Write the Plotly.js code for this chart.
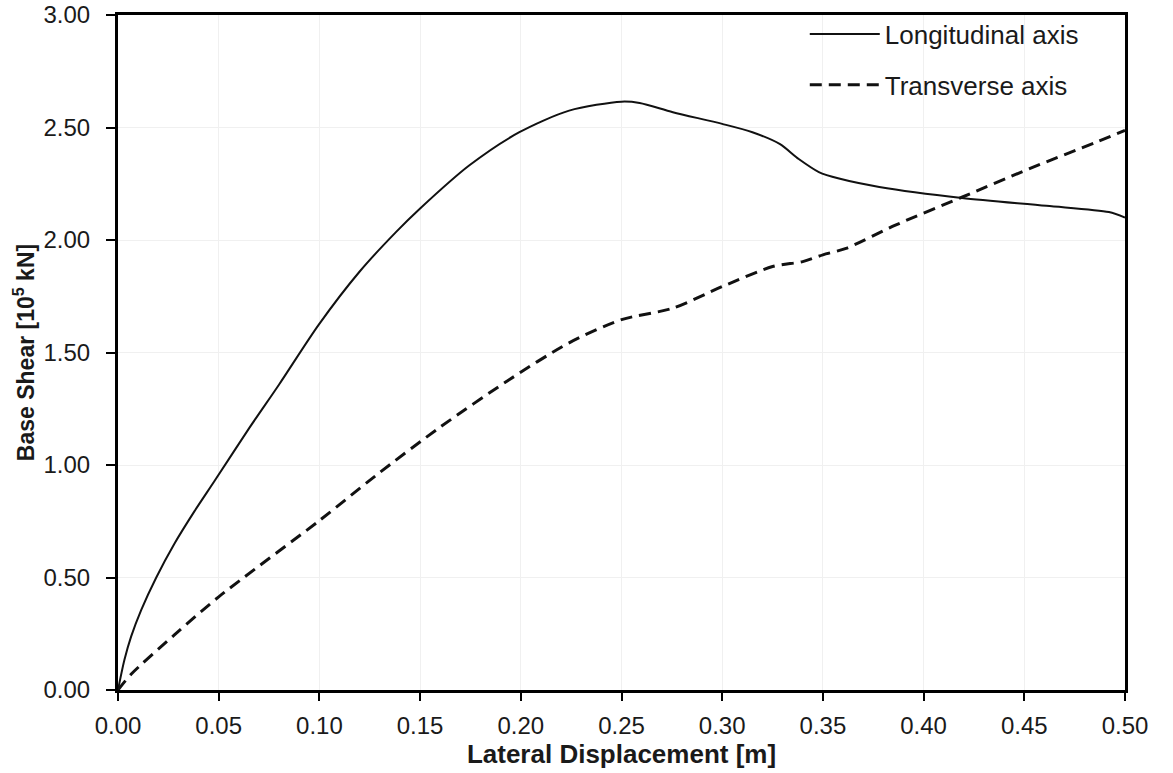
<!DOCTYPE html>
<html>
<head>
<meta charset="utf-8">
<script src="https://cdn.plot.ly/plotly-3.0.1.min.js"></script>
<style>
  html, body { margin: 0; padding: 0; background: #fff; }
  #chart { width: 1173px; height: 773px; }
</style>
</head>
<body>
<div id="chart"></div>
<script>
// Pushover curves
var long_x = [0, 0.0032, 0.0065, 0.0115, 0.019, 0.028, 0.038, 0.048, 0.0653, 0.080, 0.0997, 0.120, 0.138, 0.150, 0.1745, 0.1993, 0.224, 0.250, 0.259, 0.2755, 0.300, 0.315, 0.3285, 0.338, 0.348, 0.358, 0.378, 0.419, 0.461, 0.492, 0.500]
var long_y = [0, 0.134, 0.237, 0.355, 0.50, 0.65, 0.795, 0.93, 1.166, 1.358, 1.624, 1.86, 2.035, 2.14, 2.332, 2.479, 2.575, 2.615, 2.609, 2.568, 2.516, 2.479, 2.427, 2.36, 2.302, 2.273, 2.236, 2.187, 2.152, 2.124, 2.10]

var trans_x = [0, 0.0065, 0.028, 0.050, 0.100, 0.128, 0.1596, 0.1944, 0.224, 0.250, 0.2755, 0.300, 0.325, 0.340, 0.350, 0.3615, 0.386, 0.419, 0.4526, 0.4857, 0.500]
var trans_y = [0, 0.07, 0.245, 0.414, 0.753, 0.953, 1.166, 1.38, 1.543, 1.646, 1.697, 1.793, 1.882, 1.904, 1.934, 1.963, 2.066, 2.19, 2.317, 2.435, 2.487]

var series_names = ['Longitudinal axis', 'Transverse axis']

var x_ticks = [0, 0.05, 0.10, 0.15, 0.20, 0.25, 0.30, 0.35, 0.40, 0.45, 0.50]
var y_ticks = [0, 0.5, 1.0, 1.5, 2.0, 2.5, 3.0]

var x_range = [0, 0.5]
var y_range = [0, 3]

var font_family = '"Liberation Sans", Arial, sans-serif'

var traces = [
  {
    x: long_x,
    y: long_y,
    name: series_names[0],
    legendgroup: 'a',
    mode: 'lines',
    line: {color: '#111', width: 2, shape: 'spline', smoothing: 0.8},
    type: 'scatter'
  },
  {
    x: trans_x,
    y: trans_y,
    name: series_names[1],
    legendgroup: 'b',
    mode: 'lines',
    line: {color: '#111', width: 3, dash: '12px,7px', shape: 'spline', smoothing: 0.8},
    type: 'scatter'
  }
]

var layout = {
  width: 1173,
  height: 773,
  margin: {l: 118, r: 48, t: 14, b: 83},
  paper_bgcolor: '#fff',
  plot_bgcolor: '#fff',
  font: {family: font_family, color: '#1a1a1a', size: 24},
  showlegend: true,
  legend: {
    x: 0.682,
    y: 1.005,
    xanchor: 'left',
    yanchor: 'top',
    bgcolor: 'rgba(0,0,0,0)',
    font: {size: 26, color: '#1a1a1a'},
    itemwidth: 70,
    traceorder: 'grouped',
    tracegroupgap: 14
  },
  xaxis: {
    range: x_range,
    tickmode: 'array',
    tickvals: x_ticks,
    tickformat: '.2f',
    showline: true,
    linecolor: '#000',
    linewidth: 3,
    mirror: true,
    ticks: 'outside',
    ticklen: 8,
    tickwidth: 2,
    tickcolor: '#000',
    ticklabelstandoff: 4,
    ticklabeloverflow: 'allow',
    showgrid: true,
    gridcolor: '#f0f0f0',
    gridwidth: 1,
    zeroline: false,
    title: {text: '<b>Lateral Displacement [m]</b>', font: {size: 26}, standoff: 6}
  },
  yaxis: {
    range: y_range,
    tickmode: 'array',
    tickvals: y_ticks,
    tickformat: '.2f',
    showline: true,
    linecolor: '#000',
    linewidth: 3,
    mirror: true,
    ticks: 'outside',
    ticklen: 9,
    tickwidth: 2,
    tickcolor: '#000',
    ticklabelstandoff: 11,
    ticklabeloverflow: 'allow',
    showgrid: true,
    gridcolor: '#f0f0f0',
    gridwidth: 1,
    zeroline: false,
    title: {text: '<b>Base Shear [10<sup>5</sup> kN]</b>', font: {size: 23}, standoff: 3}
  }
}

var config = {responsive: false, displayModeBar: false}

Plotly.newPlot('chart', traces, layout, config)
</script>
</body>
</html>
